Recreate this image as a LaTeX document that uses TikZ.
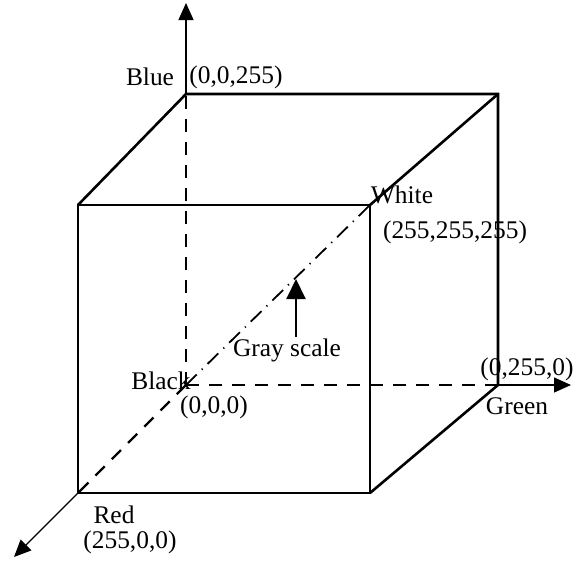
\documentclass[tikz,border=0pt]{standalone}
\usepackage{fontspec}
\setmainfont{Liberation Serif}
\usetikzlibrary{arrows.meta}

\begin{document}
\begin{tikzpicture}[x=0.5pt,y=-0.5pt,
    edge/.style={line width=1.3pt},
    hidden/.style={line width=1.2pt, dash pattern=on 6.5pt off 5pt},
    diag/.style={line width=0.9pt, dash pattern=on 7.5pt off 3.5pt on 0.6pt off 3.5pt},
    axis/.style={line width=0.6pt, -{Triangle[length=8.5pt,width=7.5pt]}},
    pointer/.style={line width=1pt, -{Triangle[length=10pt,width=9.5pt]}},
    lbl/.style={font=\fontsize{12.7}{15}\selectfont, inner sep=0pt}]
    \useasboundingbox (0,0) rectangle (574,563);

    % corners of the cube
    \coordinate (black) at (186,385);
    \coordinate (blue) at (186,94);
    \coordinate (cyan) at (498,94);
    \coordinate (green) at (498,385);
    \coordinate (magenta) at (78,205);
    \coordinate (white) at (370,205);
    \coordinate (yellow) at (370,493);
    \coordinate (red) at (78,493);
    % axis tips
    \coordinate (blueTip) at (186,3);
    \coordinate (greenTip) at (571,385);
    \coordinate (redTip) at (14,557);

    % hidden edges
    \draw[hidden] (black) -- (blue);
    \draw[hidden] (black) -- (green);
    \draw[hidden] (black) -- (red);
    \draw[diag] (black) -- (white);

    % visible edges
    \draw[edge] (magenta) rectangle (yellow);
    \draw[edge] (magenta) -- (blue) -- (cyan) -- (green) -- (yellow);
    \draw[edge] (white) -- (cyan);

    % axes
    \draw[axis] (blue) -- (blueTip);
    \draw[axis] (green) -- (greenTip);
    \draw[axis] (red) -- (redTip);

    % labels
    \node[lbl] (lblue) at (150,77) {Blue};
    \node[lbl] (vblue) at (236,77) {(0,0,255)};
    \node[lbl] (lwhite) at (402,195) {White};
    \node[lbl] (vwhite) at (455,232) {(255,255,255)};
    \node[lbl] (lblack) at (161,381) {Black};
    \node[lbl] (vblack) at (214,407) {(0,0,0)};
    \node[lbl] (gray) at (287,350) {Gray scale};
    \node[lbl] (vgreen) at (527,369) {(0,255,0)};
    \node[lbl] (lgreen) at (517,406) {Green};
    \node[lbl] (lred) at (114,515) {Red};
    \node[lbl] (vred) at (130,542) {(255,0,0)};

    \coordinate (g0) at (296,337);
    \coordinate (g1) at (296,279);
    \draw[pointer] (g0) -- (g1);
\end{tikzpicture}
\end{document}
